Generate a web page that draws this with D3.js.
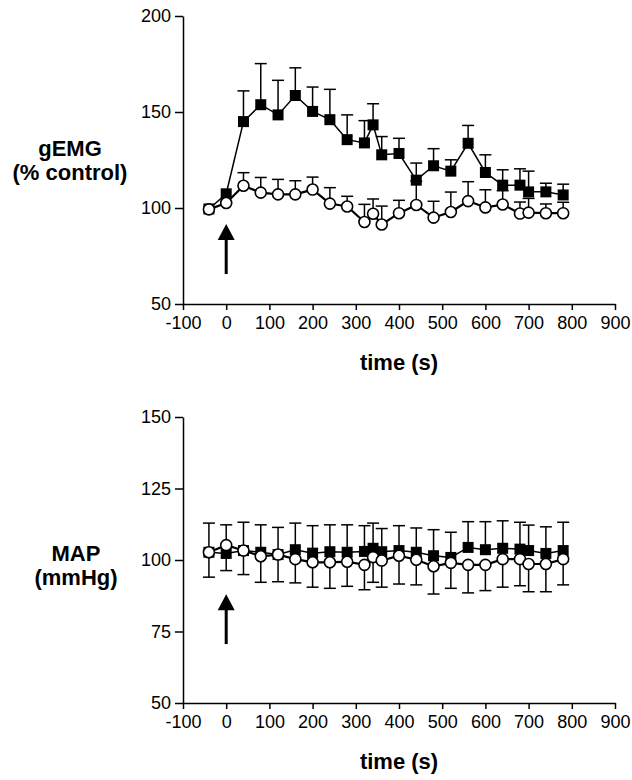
<!DOCTYPE html>
<html>
<head>
<meta charset="utf-8">
<style>
  body { margin: 0; background: #fff; font-family: Arial, "Liberation Sans", sans-serif; }
  .axis path, .axis line { stroke: #000; stroke-width: 1.5; }
  .axis text { font-size: 18px; fill: #000; font-family: Arial, "Liberation Sans", sans-serif; }
  .title { font-size: 22px; font-weight: bold; font-family: Arial, "Liberation Sans", sans-serif; }
</style>
</head>
<body>
<svg width="632" height="780"></svg>
<script src="https://cdn.jsdelivr.net/npm/d3@7"></script>
<script>
// time points (s)
var times = [-40, 0, 40, 80, 120, 160, 200, 240, 280, 320, 340, 360, 400, 440, 480, 520, 560, 600, 640, 680, 700, 740, 780];
var xTicks = [-100, 0, 100, 200, 300, 400, 500, 600, 700, 800, 900];

// gEMG (% control)
var emgSquare = [99.5, 107.4, 145, 153.8, 148.5, 158.6, 150.3, 146, 135.6, 133.9, 143.3, 127.7, 128.4, 114.5, 122, 119.2, 133.7, 118.5, 111.9, 111.9, 108.4, 108.4, 106.8];
var emgSquareErr = [0, 0, 16, 21.4, 18, 14.4, 12.7, 15.8, 12.9, 11.6, 11, 9.5, 7.9, 8.9, 8.9, 5.9, 9.3, 9.2, 8, 8.5, 10.8, 4.5, 5.6];
var emgCircle = [99.3, 102.6, 111.6, 108, 107.1, 107.1, 109.6, 102.3, 100.8, 92.7, 97, 91.4, 97.3, 101.6, 95, 97.9, 103.6, 100.3, 101.8, 97.1, 97.6, 97.3, 97.3];
var emgCircleErr = [0, 0, 6.8, 7.9, 7.8, 7.1, 6.5, 8.3, 5.3, 9.2, 7.7, 9.6, 6.7, 12.4, 8.5, 10.4, 10.1, 9.2, 7.2, 6, 7.4, 4.8, 5.7];
var emgTicks = [50, 100, 150, 200];

// MAP (mmHg)
var mapSquare = [102.7, 102.3, 103.3, 102.7, 101.9, 103.6, 102.4, 102.9, 102.7, 103, 104.1, 102.9, 103.3, 102.7, 101.5, 100.9, 104.4, 103.6, 104.1, 103.8, 103.3, 102.3, 103.3];
var mapSquareErr = [10.2, 10, 9.9, 9.6, 9.5, 9.3, 9.6, 9.4, 9.6, 9, 8.8, 8.1, 8.7, 8.5, 9.1, 8.8, 9, 9.8, 9.6, 9.4, 8.9, 9.3, 9.9];
var mapCircle = [102.7, 105.2, 103.3, 101.3, 101.9, 100.3, 99.2, 99.2, 99.4, 98.3, 101, 99.8, 101.5, 100.1, 97.8, 99, 98.3, 98.3, 100.3, 100.3, 98.6, 98.6, 100.3];
var mapCircleErr = [8.7, 8.9, 8.4, 9.1, 9.5, 8.3, 8.7, 9.1, 8.6, 8.7, 8.8, 9.3, 9.9, 8.8, 9.7, 8.9, 9.8, 9, 9.8, 9.3, 9.7, 9.7, 9];
var mapTicks = [50, 75, 100, 125, 150];

// arrow: time, tip value, base value
var emgArrow = [0, 91.7, 65.6];
var mapArrow = [0, 88, 70.6];

var svg = d3.select("svg");

var x = d3.scaleLinear().domain([-100, 900]).range([183, 615]);

// plain hyphen for negatives, like the original
var plain = function(d) { return String(d); };

function panel(opt) {
  var y = d3.scaleLinear().domain(opt.domain).range(opt.range);
  var g = svg.append("g");

  g.append("g")
    .attr("class", "axis")
    .attr("transform", "translate(0," + opt.range[0] + ")")
    .call(d3.axisBottom(x).tickValues(xTicks).tickFormat(plain).tickSize(6).tickSizeOuter(0).tickPadding(6));

  g.append("g")
    .attr("class", "axis")
    .attr("transform", "translate(" + x(-100) + ",0)")
    .call(d3.axisLeft(y).tickValues(opt.ticks).tickFormat(plain).tickSize(8).tickSizeOuter(0).tickPadding(4));

  g.append("text")
    .attr("class", "title")
    .attr("x", (x(-100) + x(900)) / 2)
    .attr("y", opt.range[0] + 66)
    .attr("text-anchor", "middle")
    .text("time (s)");

  g.selectAll(".ylab")
    .data(opt.label)
    .enter().append("text")
    .attr("class", "title")
    .attr("x", opt.labelX)
    .attr("y", function(d, i) { return opt.labelY + i * 24; })
    .attr("text-anchor", "middle")
    .text(function(d) { return d; });

  function series(vals, errs, dir, shape, lineW) {
    var pts = times.map(function(t, i) { return {t: t, v: vals[i], e: errs[i]}; });
    var eb = g.append("g").attr("stroke", "#000").attr("stroke-width", 1.5);
    pts.forEach(function(d) {
      if (!d.e) return;
      var end = y(d.v + dir * d.e);
      eb.append("line").attr("x1", x(d.t)).attr("x2", x(d.t)).attr("y1", y(d.v)).attr("y2", end);
      eb.append("line").attr("x1", x(d.t) - 6).attr("x2", x(d.t) + 6).attr("y1", end).attr("y2", end);
    });
    g.append("path")
      .datum(pts)
      .attr("fill", "none")
      .attr("stroke", "#000")
      .attr("stroke-width", lineW)
      .attr("d", d3.line().x(function(d) { return x(d.t); }).y(function(d) { return y(d.v); }));
    if (shape === "square") {
      g.selectAll(null).data(pts).enter().append("rect")
        .attr("x", function(d) { return x(d.t) - 5.5; })
        .attr("y", function(d) { return y(d.v) - 5.5; })
        .attr("width", 11).attr("height", 11)
        .attr("fill", "#000");
    } else {
      g.selectAll(null).data(pts).enter().append("circle")
        .attr("cx", function(d) { return x(d.t); })
        .attr("cy", function(d) { return y(d.v); })
        .attr("r", 5.5)
        .attr("fill", "#fff")
        .attr("stroke", "#000")
        .attr("stroke-width", 1.6);
    }
  }

  series(opt.sq, opt.sqErr, 1, "square", 1.5);
  series(opt.ci, opt.ciErr, opt.ciDir, "circle", 2.2);

  // arrow marking the stimulus
  var ax = x(opt.arrow[0]), tip = y(opt.arrow[1]), base = y(opt.arrow[2]);
  g.append("line").attr("x1", ax).attr("x2", ax).attr("y1", tip + 12).attr("y2", base)
    .attr("stroke", "#000").attr("stroke-width", 3);
  g.append("path")
    .attr("d", "M" + ax + "," + tip + "L" + (ax - 8.5) + "," + (tip + 16) + "L" + (ax + 8.5) + "," + (tip + 16) + "Z")
    .attr("fill", "#000");
}

panel({
  domain: [50, 200], range: [304, 16], ticks: emgTicks,
  label: ["gEMG", "(% control)"], labelX: 70, labelY: 156,
  sq: emgSquare, sqErr: emgSquareErr, ci: emgCircle, ciErr: emgCircleErr, ciDir: 1,
  arrow: emgArrow
});

panel({
  domain: [50, 150], range: [703, 417], ticks: mapTicks,
  label: ["MAP", "(mmHg)"], labelX: 76, labelY: 561,
  sq: mapSquare, sqErr: mapSquareErr, ci: mapCircle, ciErr: mapCircleErr, ciDir: -1,
  arrow: mapArrow
});
</script>
</body>
</html>
